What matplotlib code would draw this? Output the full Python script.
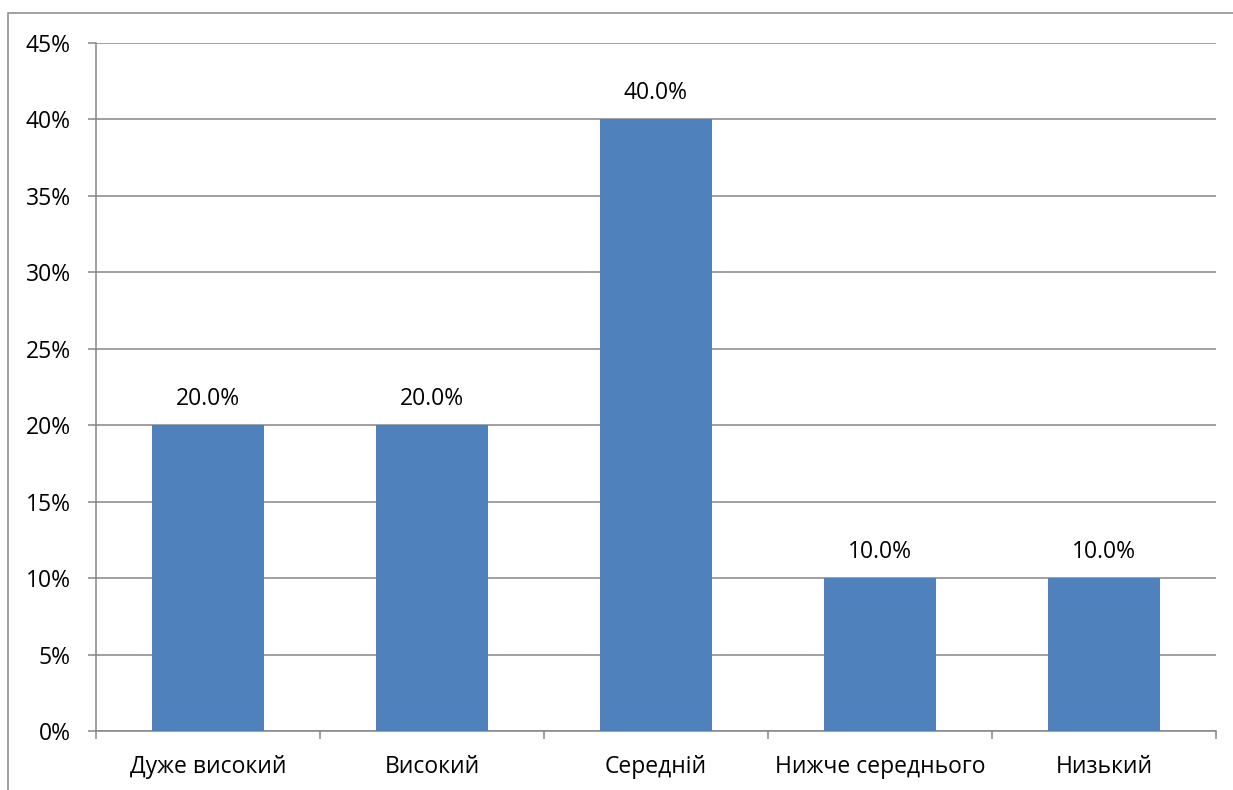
import numpy as np
import matplotlib.pyplot as plt
from matplotlib.ticker import MultipleLocator, FuncFormatter
from matplotlib.patches import Rectangle

categories = ["Дуже високий", "Високий", "Середній", "Нижче середнього", "Низький"]
values = [20.0, 20.0, 40.0, 10.0, 10.0]
value_labels = ["20.0%", "20.0%", "40.0%", "10.0%", "10.0%"]

plt.rcParams["font.family"] = ["Open Sans", "DejaVu Sans"]

W, H = 1233, 790
fig = plt.figure(figsize=(W / 100, H / 100), dpi=100)
ax = fig.add_axes([96 / W, 1 - 731 / H, (1216 - 96) / W, (731 - 43) / H])

grid_c = "#868686"
fs = 16.5
lw = 1.1
x = np.arange(len(categories))
ax.bar(x, values, width=0.5, color="#4F81BD", zorder=3)
for xi, v, lab in zip(x, values, value_labels):
    ax.annotate(lab, (xi, v), xytext=(0, 19), textcoords="offset points",
                ha="center", va="center", fontsize=fs)

ax.set_xlim(-0.5, len(categories) - 0.5)
ax.set_ylim(0, 45)
ax.yaxis.set_major_locator(MultipleLocator(5))
ax.yaxis.set_major_formatter(FuncFormatter(lambda v, p: f"{v:.0f}%"))
ax.grid(axis="y", color=grid_c, linewidth=lw, zorder=0)

ax.set_xticks(x)
ax.set_xticklabels(categories)
ax.set_xticks(np.arange(-0.5, len(categories)), minor=True)
ax.tick_params(axis="x", which="major", length=0, pad=17, labelsize=fs)
ax.tick_params(axis="x", which="minor", length=6, width=lw, color=grid_c)
ax.tick_params(axis="y", length=6, width=lw, color=grid_c, pad=12, labelsize=fs)

for s in ["top", "right"]:
    ax.spines[s].set_visible(False)
for s in ["left", "bottom"]:
    ax.spines[s].set_color(grid_c)
    ax.spines[s].set_linewidth(lw)

# chart-area border
fig.patches.append(Rectangle((7.5 / W, -0.1), 1.2, 1 - 13 / H + 0.1,
                             transform=fig.transFigure, fill=False,
                             edgecolor=grid_c, linewidth=lw))

fig.savefig("out.png", dpi=100)
